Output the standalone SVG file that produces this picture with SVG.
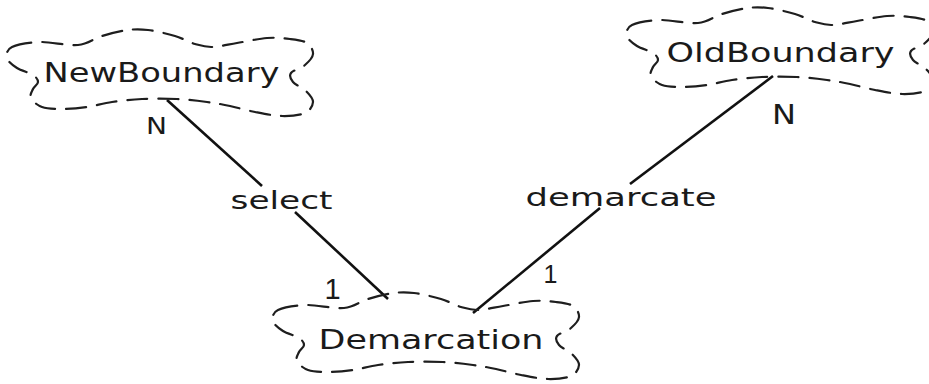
<svg xmlns="http://www.w3.org/2000/svg" width="929" height="384" viewBox="0 0 929 384">
  <style>
    .cloud { fill: none; stroke: #1e1e1e; stroke-width: 2.2; stroke-dasharray: 20 11; stroke-linecap: round; }
    .link { fill: none; stroke: #111; stroke-width: 2.6; stroke-linecap: butt; }
    .name { font-family: "DejaVu Sans", sans-serif; font-size: 26px; fill: #1a1a1a; }
    .role { font-family: "DejaVu Sans", sans-serif; font-size: 25px; fill: #1a1a1a; }
    .card { font-family: "DejaVu Sans", sans-serif; fill: #1a1a1a; }
    .num { font-family: "Liberation Sans", sans-serif; fill: #1a1a1a; }
  </style>
  <defs>
    <!-- dashed class cloud, local box about 306 x 86 -->
    <path id="cloudShape" d="M5,17 C10.5,14.3 22,12.3 33,12 C44,11.7 60.7,16 71,15 C81.3,14 86.7,8.5 95,6 C103.3,3.5 113.3,1 121,0 C128.7,-1 133.2,-1 141,0 C148.8,1 160.2,3.7 168,6 C175.8,8.3 181.8,12.2 188,14 C194.2,15.8 198,17.2 205,17 C212,16.8 220.8,14.5 230,13 C239.2,11.5 251.2,8.7 260,8 C268.8,7.3 276.3,8.2 283,9 C289.7,9.8 296.2,10.5 300,13 C303.8,15.5 306.3,20.3 306,24 C305.7,27.7 301.7,31.8 298,35 C294.3,38.2 286,40.2 284,43 C282,45.8 283.5,49 286,52 C288.5,55 295.7,57.7 299,61 C302.3,64.3 306.2,68.3 306,72 C305.8,75.7 303.2,80.7 298,83 C292.8,85.3 283.3,86.2 275,86 C266.7,85.8 256.7,83.7 248,82 C239.3,80.3 231,77.7 223,76 C215,74.3 208.8,73.2 200,72 C191.2,70.8 180.8,69.5 170,69 C159.2,68.5 145.8,68.5 135,69 C124.2,69.5 114.2,70.7 105,72 C95.8,73.3 88.3,75.8 80,77 C71.7,78.2 62.5,79 55,79 C47.5,79 40.2,78.8 35,77 C29.8,75.2 25.5,71 24,68 C22.5,65 24.8,61.7 26,59 C27.2,56.3 31,54.3 31,52 C31,49.7 29.5,47.3 26,45 C22.5,42.7 14.3,40.8 10,38 C5.7,35.2 0.8,31.5 0,28 C-0.8,24.5 -0.5,19.7 5,17 Z"/>
  </defs>

  <!-- relationship lines, broken where the role names sit -->
  <g id="connectors">
    <line class="link" x1="167" y1="100" x2="262" y2="186"/>
    <line class="link" x1="295" y1="212" x2="388" y2="299"/>
    <line class="link" x1="773" y1="76" x2="630" y2="184"/>
    <line class="link" x1="600" y1="208" x2="473" y2="313"/>
    <text class="role" x="230.5" y="209" textLength="102" lengthAdjust="spacingAndGlyphs">select</text>
    <text class="role" x="525.5" y="206" textLength="191" lengthAdjust="spacingAndGlyphs">demarcate</text>
    <text class="card" x="146" y="134" font-size="23" textLength="21" lengthAdjust="spacingAndGlyphs">N</text>
    <text class="card" x="772" y="124" font-size="27" textLength="24" lengthAdjust="spacingAndGlyphs">N</text>
    <text class="num" x="324.5" y="299" font-size="29">1</text>
    <text class="num" x="543.5" y="283" font-size="25">1</text>
  </g>

  <g id="NewBoundary">
    <use href="#cloudShape" class="cloud" transform="translate(7,30)"/>
    <text class="name" x="43.5" y="82" textLength="236" lengthAdjust="spacingAndGlyphs">NewBoundary</text>
  </g>

  <g id="OldBoundary">
    <use href="#cloudShape" class="cloud" transform="translate(627,8)"/>
    <text class="name" x="666.5" y="62" textLength="228" lengthAdjust="spacingAndGlyphs">OldBoundary</text>
  </g>

  <g id="Demarcation">
    <use href="#cloudShape" class="cloud" transform="translate(273,293)"/>
    <text class="name" x="318.5" y="349" textLength="225" lengthAdjust="spacingAndGlyphs">Demarcation</text>
  </g>
</svg>
